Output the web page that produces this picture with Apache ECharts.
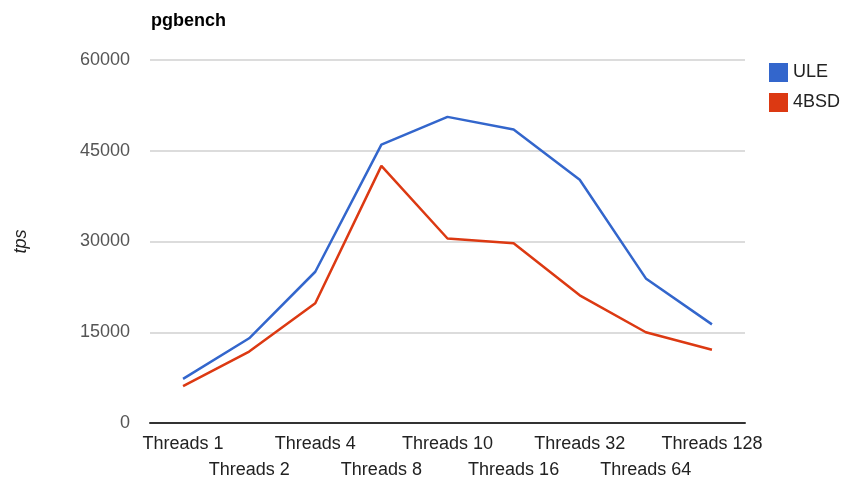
<!DOCTYPE html>
<html>
<head>
<meta charset="utf-8">
<script src="https://cdn.jsdelivr.net/npm/echarts@6/dist/echarts.min.js"></script>
<style>
  html, body { margin: 0; padding: 0; background: #fff; }
  #chart { width: 846px; height: 483px; }
</style>
</head>
<body>
<div id="chart"></div>
<script>
// 线程数
var categories = ["Threads 1", "Threads 2", "Threads 4", "Threads 8", "Threads 10",
  "Threads 16", "Threads 32", "Threads 64", "Threads 128"];
// tps
var uleData = [7300, 14000, 25000, 46000, 50600, 48500, 40200, 23900, 16300];
var bsdData = [6100, 11800, 19800, 42500, 30500, 29700, 21100, 15000, 12100];
var yTicks = [0, 15000, 30000, 45000, 60000];

var font = 'Arial, "Liberation Sans", sans-serif';

var option = {
  backgroundColor: "#ffffff",
  animation: false,
  color: ["#3366cc", "#dc3912"],
  title: {
    text: "pgbench",
    left: 146,
    top: 7,
    textStyle: { fontFamily: font, fontSize: 18, fontWeight: "bold", color: "#000" }
  },
  legend: {
    orient: "vertical",
    left: 764,
    top: 58,
    itemWidth: 19,
    itemHeight: 19,
    itemGap: 11,
    icon: "rect",
    textStyle: { fontFamily: font, fontSize: 18, color: "#222" },
    data: ["ULE", "4BSD"]
  },
  grid: {
    left: 150,
    right: 101,
    top: 60,
    bottom: 59
  },
  xAxis: {
    type: "category",
    data: categories,
    axisTick: { show: false },
    axisLine: { lineStyle: { color: "#333", width: 2 } },
    axisLabel: {
      interval: 0,
      margin: 8,
      fontFamily: font,
      fontSize: 18,
      color: "#222",
      lineHeight: 26,
      formatter: function (v, i) {
        return i % 2 ? "\n" + v : v;
      }
    }
  },
  yAxis: {
    type: "value",
    min: yTicks[0],
    max: yTicks[yTicks.length - 1],
    interval: yTicks[1] - yTicks[0],
    name: "tps",
    nameLocation: "middle",
    nameGap: 120,
    nameTextStyle: { fontFamily: font, fontSize: 18, fontStyle: "italic", color: "#222" },
    axisLine: { show: false },
    axisTick: { show: false },
    axisLabel: {
      margin: 20,
      fontFamily: font,
      fontSize: 18,
      color: "#555",
      formatter: function (v) { return String(v); }
    },
    splitLine: { lineStyle: { color: "#dcdcdc", width: 2 } }
  },
  series: [
    {
      name: "ULE",
      type: "line",
      data: uleData,
      symbol: "none",
      lineStyle: { width: 2.5 }
    },
    {
      name: "4BSD",
      type: "line",
      data: bsdData,
      symbol: "none",
      lineStyle: { width: 2.5 }
    }
  ]
};

var myChart = echarts.init(document.getElementById("chart"));
myChart.setOption(option);
</script>
</body>
</html>
